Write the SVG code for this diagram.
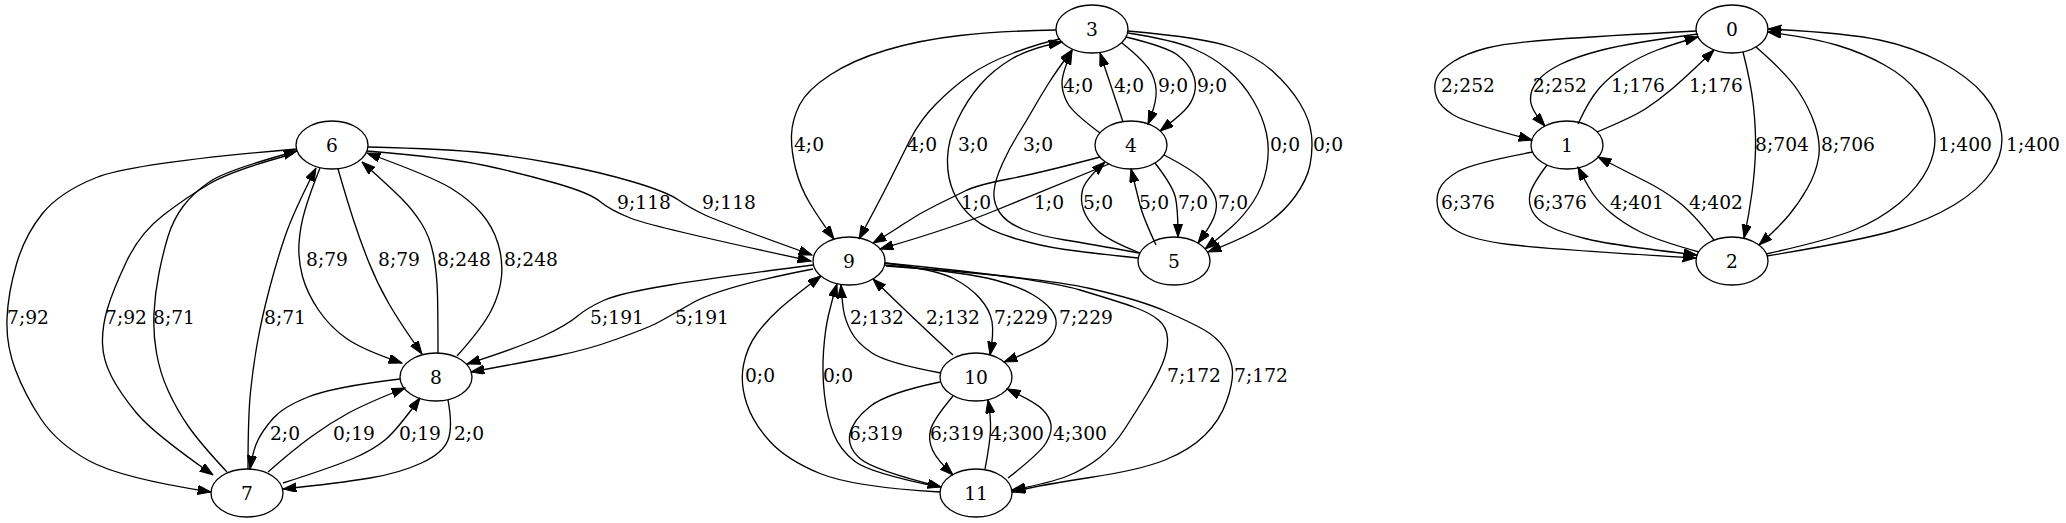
<svg xmlns="http://www.w3.org/2000/svg" width="2066" height="523" viewBox="0 0 2066 523">
<style>
.node ellipse{fill:none;stroke:#000;stroke-width:1.33}
text{font-family:"DejaVu Serif","Liberation Serif",serif;font-size:18.67px;fill:#000;text-anchor:middle}
.edges path{fill:none;stroke:#000;stroke-width:1.33;marker-end:url(#ah)}
</style>
<defs>
<marker id="ah" viewBox="0 0 14 10" refX="13.33" refY="4.67" markerWidth="14" markerHeight="10" markerUnits="userSpaceOnUse" orient="auto"><path d="M0,0 L13.33,4.67 L0,9.33 Z" fill="#000" stroke="#000" stroke-width="1"/></marker>
</defs>
<rect width="2066" height="523" fill="#fff"/>
<g id="edges" class="edges">
<!-- 6->7 -->
<path d="M297,149 Q133,163 96.5,177.5 Q60,192 42.5,213.5 Q25,235 16.5,264 Q8,293 7,319 Q6,345 15.5,370 Q25,395 41,419 Q57,443 88.5,460.5 Q120,478 211,492"/>
<path d="M293,154 Q233,170 210,183.5 Q187,197 163.5,215 Q140,233 126.5,261.5 Q113,290 107.5,308.5 Q102,327 102.5,343.5 Q103,360 111.5,376.5 Q120,393 136.5,413 Q153,433 213,475"/>
<!-- 7->6 -->
<path d="M227,472 Q200,443 188.5,426.5 Q177,410 168.5,391.5 Q160,373 156.5,353 Q153,333 154,313 Q155,293 159,273 Q163,253 168,236.5 Q173,220 183,206.5 Q193,193 210,181.5 Q227,170 297,151"/>
<path d="M248,469 Q248,417 250.5,392 Q253,367 257.5,342 Q262,317 269.5,288.5 Q277,260 285,236.5 Q293,213 316,168"/>
<!-- 6->8 -->
<path d="M320,168 Q310,193 305,210 Q300,227 299,243.5 Q298,260 302.5,276.5 Q307,293 318.5,310 Q330,327 346.5,338.5 Q363,350 402,363"/>
<path d="M338,169 Q347,200 353.5,220 Q360,240 368.5,261.5 Q377,283 388.5,303 Q400,323 422,354"/>
<!-- 8->6 -->
<path d="M438,353 Q438,317 437.5,295 Q437,273 433.5,255 Q430,237 421.5,223.5 Q413,210 401.5,198.5 Q390,187 362,162"/>
<path d="M457,356 Q483,327 491.5,310 Q500,293 501.5,276.5 Q503,260 498,243.5 Q493,227 481.5,213.5 Q470,200 451.5,188.5 Q433,177 367,153"/>
<!-- 6->9 -->
<path d="M368,147 Q450,149 485,153 Q520,157 560,164.5 Q600,172 633.5,182 Q667,192 678.5,200 Q690,208 705,215 Q720,222 812,255"/>
<path d="M367,151 Q450,158 485,165.5 Q520,173 555,183 Q590,193 600,201.5 Q610,210 631.5,218.5 Q653,227 811,261"/>
<!-- 9->8 -->
<path d="M813,265 Q720,277 670,285 Q620,293 603.5,300.5 Q587,308 577,316.5 Q567,325 543.5,336 Q520,347 467,364"/>
<path d="M813,269 Q720,287 691.5,303.5 Q663,320 655,324 Q647,328 617,339 Q587,350 553.5,356.5 Q520,363 471,372"/>
<!-- 8->7 -->
<path d="M400,379 Q333,387 308,397 Q283,407 273,418.5 Q263,430 258,440 Q253,450 250,469"/>
<path d="M448,400 Q453,427 448,440 Q443,453 421.5,463 Q400,473 370,478 Q340,483 283,489"/>
<!-- 7->8 -->
<path d="M268,472 Q293,450 311.5,436.5 Q330,423 348.5,413 Q367,403 405,388"/>
<path d="M283,483 Q333,467 353,458.5 Q373,450 385,440 Q397,430 420,398"/>
<!-- 3->9 -->
<path d="M1056,30 Q1000,31 960,35.5 Q920,40 886.5,50 Q853,60 830,75 Q807,90 799.5,105 Q792,120 791.5,135 Q791,150 795.5,168.5 Q800,187 810,203.5 Q820,220 834,239"/>
<path d="M1060,39 Q1040,43 1013.5,53 Q987,63 970,75 Q953,87 936.5,103.5 Q920,120 910,140 Q900,160 890,180 Q880,200 859,239"/>
<!-- 5->3 -->
<path d="M1138,258 Q1090,253 1065,249.5 Q1040,246 1013.5,238 Q987,230 973.5,218.5 Q960,207 953.5,192 Q947,177 947.5,158.5 Q948,140 957.5,120 Q967,100 980,85 Q993,70 1011.5,59 Q1030,48 1062,42"/>
<path d="M1139,253 Q1090,244 1065,240 Q1040,236 1023.5,229.5 Q1007,223 1000,213 Q993,203 994,191.5 Q995,180 1002.5,163.5 Q1010,147 1018.5,133.5 Q1027,120 1033.5,108.5 Q1040,97 1048.5,83.5 Q1057,70 1072,50"/>
<!-- 4->9 -->
<path d="M1100,157 Q1040,173 1008.5,179 Q977,185 965,191 Q953,197 936.5,205 Q920,213 903.5,224 Q887,235 873,243"/>
<path d="M1109,164 Q1040,192 996.5,210 Q953,228 880,249"/>
<!-- 10->9 -->
<path d="M941,373 Q887,363 872,353 Q857,343 851,331.5 Q845,320 843.5,310 Q842,300 841,285"/>
<path d="M953,355 Q915,320 873,279"/>
<!-- 9->10 -->
<path d="M885,263 Q937,270 953.5,278.5 Q970,287 980,298.5 Q990,310 992,321.5 Q994,333 990,355"/>
<path d="M885,265 Q970,273 995,280 Q1020,287 1032.5,294.5 Q1045,302 1051,309.5 Q1057,317 1056,325 Q1055,333 1047.5,340.5 Q1040,348 1004,362"/>
<!-- 9->11 -->
<path d="M885,263 Q1040,278 1080,290 Q1120,302 1135,307.5 Q1150,313 1158.5,320 Q1167,327 1167.5,338.5 Q1168,350 1162.5,363.5 Q1157,377 1147,393.5 Q1137,410 1125,428.5 Q1113,447 1099,458 Q1085,469 1067.5,476 Q1050,483 1012,490"/>
<path d="M886,266 Q1040,277 1090,288.5 Q1140,300 1165,311 Q1190,322 1203.5,329.5 Q1217,337 1224.5,348.5 Q1232,360 1232.5,371.5 Q1233,383 1226.5,401.5 Q1220,420 1205,435 Q1190,450 1165,460 Q1140,470 1090,477.5 Q1040,485 1012,492"/>
<!-- 11->9 -->
<path d="M940,492 Q853,487 820,473.5 Q787,460 770,441.5 Q753,423 746.5,403 Q740,383 743.5,365 Q747,347 757,333.5 Q767,320 780,308.5 Q793,297 821,276"/>
<path d="M939,487 Q870,473 855,461.5 Q840,450 833.5,433.5 Q827,417 824.5,395 Q822,373 823.5,351.5 Q825,330 828.5,315 Q832,300 837,284"/>
<!-- 10->11 -->
<path d="M940,382 Q887,393 870,406.5 Q853,420 850,433.5 Q847,447 860,458.5 Q873,470 941,487"/>
<path d="M953,396 Q933,420 930.5,430 Q928,440 932.5,450 Q937,460 953,475"/>
<!-- 11->10 -->
<path d="M985,469 Q990,443 990.5,430 Q991,417 988,400"/>
<path d="M1008,478 Q1040,453 1046,443 Q1052,433 1051,425 Q1050,417 1042.5,409.5 Q1035,402 1007,389"/>
<!-- 4->3 -->
<path d="M1100,133 Q1073,113 1067.5,103 Q1062,93 1062,83 Q1062,73 1072,51"/>
<path d="M1123,122 L1100,53"/>
<!-- 3->4 -->
<path d="M1122,43 Q1147,63 1152,74 Q1157,85 1156,96 Q1155,107 1148,124"/>
<path d="M1126,37 Q1167,47 1177.5,55 Q1188,63 1192.5,73 Q1197,83 1194.5,93 Q1192,103 1184.5,110.5 Q1177,118 1160,131"/>
<!-- 3->5 -->
<path d="M1128,33 Q1173,40 1193,48.5 Q1213,57 1228,70 Q1243,83 1253,100 Q1263,117 1266.5,133.5 Q1270,150 1266.5,168.5 Q1263,187 1253,202 Q1243,217 1231.5,227 Q1220,237 1205,249"/>
<path d="M1128,31 Q1207,38 1232,47.5 Q1257,57 1273.5,72 Q1290,87 1300,103.5 Q1310,120 1311.5,135 Q1313,150 1310,165 Q1307,180 1295,196.5 Q1283,213 1265,225 Q1247,237 1208,252"/>
<!-- 5->4 -->
<path d="M1140,253 Q1107,240 1097,230 Q1087,220 1083.5,210 Q1080,200 1082.5,190 Q1085,180 1105,162"/>
<path d="M1156,245 Q1143,217 1140,205 Q1137,193 1131,169"/>
<!-- 4->5 -->
<path d="M1155,163 Q1172,185 1175,196 Q1178,207 1178,237"/>
<path d="M1164,155 Q1193,170 1203,180 Q1213,190 1215.5,198.5 Q1218,207 1214,217 Q1210,227 1198,243"/>
<!-- 0->1 -->
<path d="M1696,31 Q1600,36 1553.5,39.5 Q1507,43 1487,48 Q1467,53 1453.5,61.5 Q1440,70 1436.5,78.5 Q1433,87 1436.5,97 Q1440,107 1453.5,115 Q1467,123 1532,140"/>
<path d="M1698,34 Q1629,43 1602,50 Q1575,57 1560,64.5 Q1545,72 1537.5,81 Q1530,90 1530.5,100 Q1531,110 1545,126"/>
<!-- 1->0 -->
<path d="M1578,124 Q1589,100 1599,88.5 Q1609,77 1624,67 Q1639,57 1656,50.5 Q1673,44 1698,37"/>
<path d="M1597,132 Q1633,117 1646,108.5 Q1659,100 1672.5,88.5 Q1686,77 1714,50"/>
<!-- 0->2 -->
<path d="M1743,52 Q1751,83 1753.5,106.5 Q1756,130 1755.5,150 Q1755,170 1752,192.5 Q1749,215 1744,238"/>
<path d="M1756,47 Q1786,73 1797.5,90 Q1809,107 1815,125 Q1821,143 1818.5,158 Q1816,173 1807.5,188 Q1799,203 1789,215 Q1779,227 1759,245"/>
<!-- 2->0 -->
<path d="M1766,254 Q1829,240 1854,230 Q1879,220 1899,203.5 Q1919,187 1928.5,167 Q1938,147 1933.5,127 Q1929,107 1917.5,92 Q1906,77 1884.5,65 Q1863,53 1838,45.5 Q1813,38 1768,32"/>
<path d="M1767,256 Q1863,240 1896,230 Q1929,220 1954,205 Q1979,190 1991.5,171.5 Q2004,153 2001.5,133 Q1999,113 1984,95 Q1969,77 1941,62 Q1913,47 1879.5,40 Q1846,33 1768,29"/>
<!-- 1->2 -->
<path d="M1533,152 Q1473,163 1458,171.5 Q1443,180 1439,190 Q1435,200 1439,211.5 Q1443,223 1458,231.5 Q1473,240 1509.5,244.5 Q1546,249 1696,258"/>
<path d="M1547,165 Q1532,185 1530,194 Q1528,203 1532.5,211.5 Q1537,220 1548.5,226 Q1560,232 1585,238.5 Q1610,245 1697,255"/>
<!-- 2->1 -->
<path d="M1699,252 Q1656,240 1639.5,231.5 Q1623,223 1611,213 Q1599,203 1592.5,193 Q1586,183 1578,167"/>
<path d="M1714,240 Q1693,213 1678,201.5 Q1663,190 1646,181.5 Q1629,173 1598,157"/>
<!-- labels -->
<text x="28" y="323.5">7;92</text>
<text x="126" y="323.5">7;92</text>
<text x="174" y="323.5">8;71</text>
<text x="285" y="323.5">8;71</text>
<text x="327" y="265.5">8;79</text>
<text x="399" y="265.5">8;79</text>
<text x="464" y="265.5">8;248</text>
<text x="531" y="265.5">8;248</text>
<text x="285" y="439.5">2;0</text>
<text x="354" y="439.5">0;19</text>
<text x="420" y="439.5">0;19</text>
<text x="469" y="439.5">2;0</text>
<text x="644" y="208.5">9;118</text>
<text x="729" y="208.5">9;118</text>
<text x="617" y="323.5">5;191</text>
<text x="702" y="323.5">5;191</text>
<text x="809" y="150.5">4;0</text>
<text x="922" y="150.5">4;0</text>
<text x="973" y="150.5">3;0</text>
<text x="1038" y="150.5">3;0</text>
<text x="976" y="208.5">1;0</text>
<text x="1049" y="208.5">1;0</text>
<text x="877" y="323.5">2;132</text>
<text x="953" y="323.5">2;132</text>
<text x="1021" y="323.5">7;229</text>
<text x="1086" y="323.5">7;229</text>
<text x="760" y="381.5">0;0</text>
<text x="838" y="381.5">0;0</text>
<text x="876" y="439.5">6;319</text>
<text x="957" y="439.5">6;319</text>
<text x="1017" y="439.5">4;300</text>
<text x="1080" y="439.5">4;300</text>
<text x="1078" y="91.5">4;0</text>
<text x="1129" y="91.5">4;0</text>
<text x="1173" y="91.5">9;0</text>
<text x="1212" y="91.5">9;0</text>
<text x="1285" y="150.5">0;0</text>
<text x="1328" y="150.5">0;0</text>
<text x="1098" y="208.5">5;0</text>
<text x="1154" y="208.5">5;0</text>
<text x="1193" y="208.5">7;0</text>
<text x="1233" y="208.5">7;0</text>
<text x="1194" y="381.5">7;172</text>
<text x="1261" y="381.5">7;172</text>
<text x="1468" y="91.5">2;252</text>
<text x="1560" y="91.5">2;252</text>
<text x="1638" y="91.5">1;176</text>
<text x="1716" y="91.5">1;176</text>
<text x="1782" y="150.5">8;704</text>
<text x="1848" y="150.5">8;706</text>
<text x="1965" y="150.5">1;400</text>
<text x="2033" y="150.5">1;400</text>
<text x="1468" y="208.5">6;376</text>
<text x="1560" y="208.5">6;376</text>
<text x="1637" y="208.5">4;401</text>
<text x="1716" y="208.5">4;402</text>
</g>
<g id="node0" class="node"><ellipse cx="1732" cy="29" rx="36" ry="24"/><text x="1732" y="35.5">0</text></g>
<g id="node1" class="node"><ellipse cx="1567" cy="145" rx="36" ry="24"/><text x="1567" y="151.5">1</text></g>
<g id="node2" class="node"><ellipse cx="1732" cy="261" rx="36" ry="24"/><text x="1732" y="267.5">2</text></g>
<g id="node3" class="node"><ellipse cx="1092" cy="29" rx="36" ry="24"/><text x="1092" y="35.5">3</text></g>
<g id="node4" class="node"><ellipse cx="1131" cy="145" rx="36" ry="24"/><text x="1131" y="151.5">4</text></g>
<g id="node5" class="node"><ellipse cx="1174" cy="261" rx="36" ry="24"/><text x="1174" y="267.5">5</text></g>
<g id="node6" class="node"><ellipse cx="332" cy="145" rx="36" ry="24"/><text x="332" y="151.5">6</text></g>
<g id="node7" class="node"><ellipse cx="247" cy="493" rx="36" ry="24"/><text x="247" y="499.5">7</text></g>
<g id="node8" class="node"><ellipse cx="436" cy="377" rx="36" ry="24"/><text x="436" y="383.5">8</text></g>
<g id="node9" class="node"><ellipse cx="849" cy="261" rx="36" ry="24"/><text x="849" y="267.5">9</text></g>
<g id="node10" class="node"><ellipse cx="976" cy="377" rx="36" ry="24"/><text x="976" y="383.5">10</text></g>
<g id="node11" class="node"><ellipse cx="976" cy="493" rx="36" ry="24"/><text x="976" y="499.5">11</text></g>
</svg>
